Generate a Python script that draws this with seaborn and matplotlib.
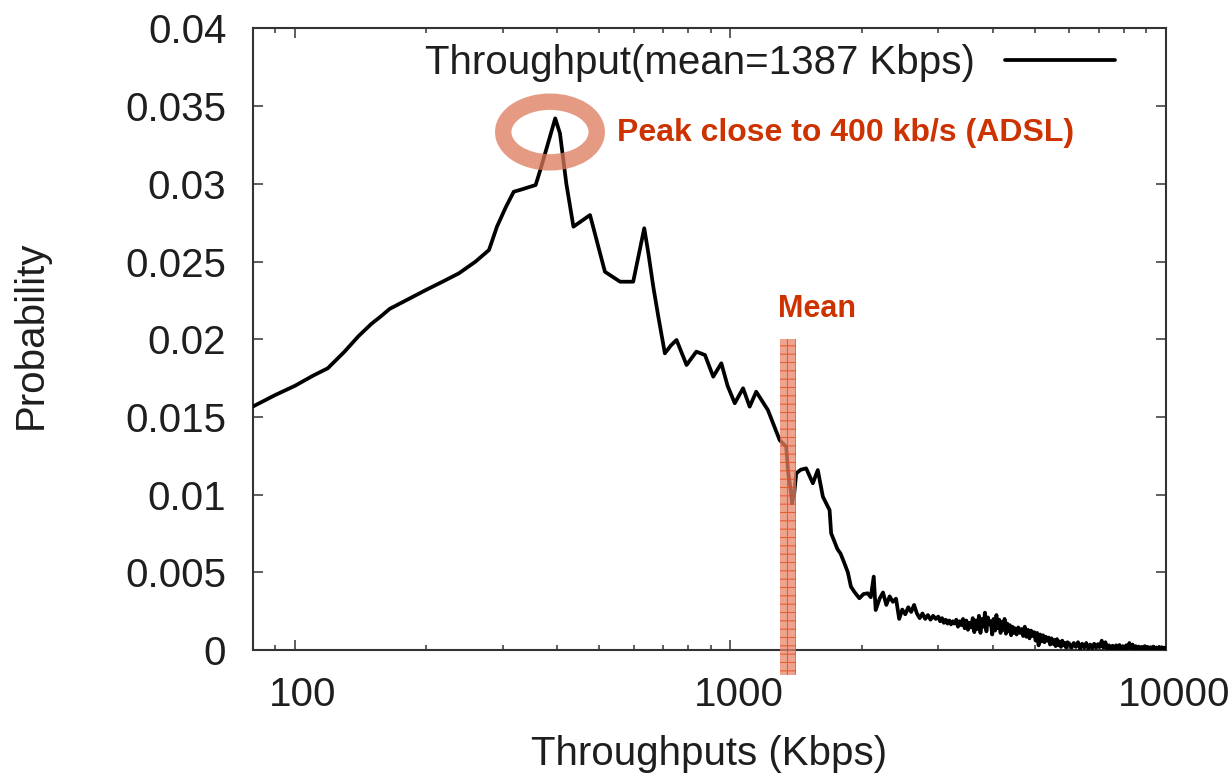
import numpy as np
import pandas as pd
import matplotlib
matplotlib.use("Agg")
import matplotlib.pyplot as plt
import matplotlib.transforms as mtransforms
import seaborn as sns
from matplotlib.patches import Ellipse, Rectangle
from matplotlib.ticker import FixedLocator, FixedFormatter, LogLocator, NullFormatter

# ---------------- data ----------------
body_x = [80, 90, 100, 110, 119, 130, 140, 150, 158, 165, 180, 200, 220, 238, 260,
          279, 291, 305, 318, 330, 357, 366, 396, 406, 420, 436, 476, 515, 558, 598,
          634, 648, 665, 683, 707, 730, 752, 793, 835, 874, 913, 953, 985, 1023,
          1069, 1107, 1146, 1219, 1297, 1343, 1355, 1375, 1385, 1400, 1416, 1450,
          1492, 1546, 1587, 1630, 1689, 1703, 1760, 1790, 1827, 1860, 1891, 1930,
          1977, 2020, 2066, 2100, 2133, 2155]
body_y = [0.01566, 0.01640, 0.01700, 0.01765, 0.01813, 0.01920, 0.02020, 0.02100,
          0.02150, 0.02195, 0.02250, 0.02317, 0.02375, 0.02424, 0.02500, 0.02574,
          0.02724, 0.02850, 0.02949, 0.02962, 0.02992, 0.03089, 0.03421, 0.03325,
          0.03000, 0.02724, 0.02799, 0.02434, 0.02370, 0.02370, 0.02714, 0.02553,
          0.02338, 0.02145, 0.01909, 0.01960, 0.01995, 0.01834, 0.01920, 0.01898,
          0.01759, 0.01845, 0.01700, 0.01588, 0.01684, 0.01566, 0.01662, 0.01544,
          0.01351, 0.01308, 0.01158, 0.01030, 0.00944, 0.01000, 0.01137, 0.01160,
          0.01169, 0.01073, 0.01158, 0.00987, 0.00900, 0.00751, 0.00650, 0.00620,
          0.00558, 0.00500, 0.00407, 0.00370, 0.00333, 0.00360, 0.00365, 0.00340,
          0.00472, 0.00257]

tail_x = [2200, 2240, 2280, 2320, 2360, 2400, 2440, 2480, 2520, 2560, 2600, 2640,
          2680, 2720, 2760, 2800, 2840, 2880, 2920, 2960,
          3000, 3030, 3060, 3090, 3120, 3150, 3180, 3210, 3240, 3270, 3300, 3330,
          3360, 3390, 3420, 3450, 3480, 3510, 3540, 3570, 3600, 3630, 3660, 3690,
          3720, 3750, 3780, 3810, 3840, 3870, 3900, 3930, 3960, 3990, 4020, 4050,
          4080, 4110, 4140, 4170, 4200, 4230, 4260, 4290, 4320, 4350, 4380, 4410,
          4440, 4470,
          4500, 4540, 4580, 4620, 4660, 4700, 4740, 4780, 4820, 4860, 4900, 4940,
          4980, 5020, 5060, 5100, 5140, 5180, 5220, 5260, 5300, 5340, 5380, 5420,
          5460, 5500, 5540, 5580, 5620, 5660, 5700, 5740, 5780, 5820, 5860, 5900,
          5940,
          6000, 6070, 6140, 6210, 6280, 6350, 6420, 6490, 6560, 6630, 6700, 6770,
          6840, 6910, 6980, 7050, 7120, 7190, 7260, 7330, 7400, 7470, 7540, 7610,
          7680, 7750, 7820, 7890, 7960, 8030, 8100, 8170, 8240, 8310, 8380, 8450,
          8520, 8590, 8660, 8730, 8800, 8870, 8940, 9010, 9080, 9150, 9220, 9290,
          9360, 9430, 9500, 9570, 9640, 9710, 9780, 9850, 9920, 10000]
tail_y = [0.00330, 0.00370, 0.00290, 0.00345, 0.00310, 0.00330, 0.00200, 0.00260,
          0.00230, 0.00275, 0.00245, 0.00290, 0.00235, 0.00205, 0.00235, 0.00200,
          0.00225, 0.00195, 0.00220, 0.00200,
          0.00215, 0.00185, 0.00205, 0.00175, 0.00195, 0.00170, 0.00190, 0.00165,
          0.00185, 0.00170, 0.00195, 0.00150, 0.00185, 0.00160, 0.00200, 0.00140,
          0.00190, 0.00130, 0.00175, 0.00145, 0.00205, 0.00115, 0.00190, 0.00135,
          0.00220, 0.00110, 0.00200, 0.00150, 0.00240, 0.00120, 0.00210, 0.00165,
          0.00185, 0.00100, 0.00200, 0.00125, 0.00225, 0.00140, 0.00195, 0.00110,
          0.00180, 0.00130, 0.00200, 0.00105, 0.00170, 0.00120, 0.00160, 0.00095,
          0.00150, 0.00110,
          0.00140, 0.00100, 0.00145, 0.00110, 0.00135, 0.00090, 0.00150, 0.00085,
          0.00130, 0.00075, 0.00125, 0.00090, 0.00115, 0.00060, 0.00110, 0.00030,
          0.00100, 0.00055, 0.00095, 0.00050, 0.00085, 0.00060, 0.00080, 0.00035,
          0.00075, 0.00040, 0.00065, 0.00025, 0.00070, 0.00030, 0.00055, 0.00020,
          0.00060, 0.00030, 0.00045, 0.00015, 0.00050,
          0.00040, 0.00015, 0.00045, 0.00020, 0.00050, 0.00010, 0.00040, 0.00015,
          0.00045, 0.00010, 0.00035, 0.00012, 0.00040, 0.00015, 0.00038, 0.00020,
          0.00060, 0.00015, 0.00050, 0.00008, 0.00030, 0.00005, 0.00028, 0.00010,
          0.00030, 0.00006, 0.00032, 0.00008, 0.00025, 0.00005, 0.00030, 0.00010,
          0.00045, 0.00012, 0.00035, 0.00006, 0.00025, 0.00004, 0.00022, 0.00008,
          0.00020, 0.00003, 0.00025, 0.00006, 0.00020, 0.00004, 0.00018, 0.00005,
          0.00022, 0.00004, 0.00016, 0.00005, 0.00020, 0.00003, 0.00018, 0.00006,
          0.00015, 0.00012]

legend_label = "Throughput(mean=1387 Kbps)"
x_ticks = [100, 1000, 10000]
x_tick_labels = ["100", "1000", "10000"]
y_ticks = [0, 0.005, 0.01, 0.015, 0.02, 0.025, 0.03, 0.035, 0.04]
y_tick_labels = ["0", "0.005", "0.01", "0.015", "0.02", "0.025", "0.03", "0.035", "0.04"]
mean_band_x = [1297, 1411]
mean_band_y = [-0.0016, 0.0200]
peak_text = "Peak close to 400 kb/s (ADSL)"
mean_text = "Mean"

# ---------------- styling ----------------
sns.set_style("ticks")
plt.rcParams["font.family"] = ["Liberation Sans", "DejaVu Sans"]
plt.rcParams["hatch.linewidth"] = 0.8

fig = plt.figure(figsize=(12.32, 7.76), dpi=100)
ax = fig.add_axes([0.20511, 0.16237, 0.74131, 0.80103])

df = pd.DataFrame({"Throughputs (Kbps)": body_x + tail_x,
                   "Probability": body_y + tail_y})
sns.lineplot(data=df, x="Throughputs (Kbps)", y="Probability", ax=ax,
             color="black", lw=2.7, sort=False, estimator=None,
             label=legend_label, zorder=3)

ax.set_xscale("log")
ax.set_xlim(80, 10000)
ax.set_ylim(0, 0.04)

ax.xaxis.set_major_locator(FixedLocator(x_ticks))
ax.xaxis.set_major_formatter(FixedFormatter(x_tick_labels))
ax.xaxis.set_minor_locator(LogLocator(base=10, subs=np.arange(2, 10)))
ax.xaxis.set_minor_formatter(NullFormatter())
ax.yaxis.set_major_locator(FixedLocator(y_ticks))
ax.yaxis.set_major_formatter(FixedFormatter(y_tick_labels))

spine_col = "#333333"
for s in ax.spines.values():
    s.set_visible(True)
    s.set_color(spine_col)
    s.set_linewidth(1.5)

ax.tick_params(which="both", direction="in", top=True, right=True,
               color=spine_col, width=1.1, labelsize=29, pad=19,
               labelcolor="#1e1e1e")
ax.tick_params(which="major", length=7.5)
ax.tick_params(which="minor", length=3.6)

ax.set_xlabel("Throughputs (Kbps)", fontsize=29, color="#1e1e1e")
ax.set_ylabel("Probability", fontsize=29, color="#1e1e1e")
ax.xaxis.set_label_coords(0.5, -0.1367)
ax.yaxis.set_label_coords(-0.2220, 0.5068)

leg = ax.legend(loc="center right", bbox_to_anchor=(0.9442, 0.9445),
                frameon=False, markerfirst=False, handlelength=2.73,
                handletextpad=0.74, borderpad=0, borderaxespad=0, fontsize=29)
for t in leg.get_texts():
    t.set_color("#1e1e1e")

# annotations
ring = Ellipse((0.3255, 0.8333), 0.1024, 0.0976, transform=ax.transAxes,
               fill=False, lw=11.8, edgecolor="#DD7A5A", alpha=0.75, zorder=5)
ax.add_patch(ring)
ax.text(0.3986, 0.8193, peak_text, transform=ax.transAxes, color="#CC3300",
        fontsize=23, fontweight="bold", ha="left", va="baseline")
ax.text(0.6184, 0.5362, mean_text, transform=ax.transAxes, color="#CC3300",
        fontsize=22, fontweight="bold", ha="center", va="baseline")

band = Rectangle((mean_band_x[0], mean_band_y[0]),
                 mean_band_x[1] - mean_band_x[0],
                 mean_band_y[1] - mean_band_y[0],
                 facecolor="#E8866A", edgecolor="#E04818", hatch="++", lw=0,
                 alpha=0.75, clip_on=False, zorder=4)
ax.add_patch(band)

# x tick labels sit slightly right of their ticks in the reference
fig.canvas.draw()
shift = mtransforms.ScaledTranslation(8 / 100, 0, fig.dpi_scale_trans)
for lbl in ax.get_xticklabels():
    lbl.set_transform(lbl.get_transform() + shift)

fig.savefig("out.png", dpi=100)
